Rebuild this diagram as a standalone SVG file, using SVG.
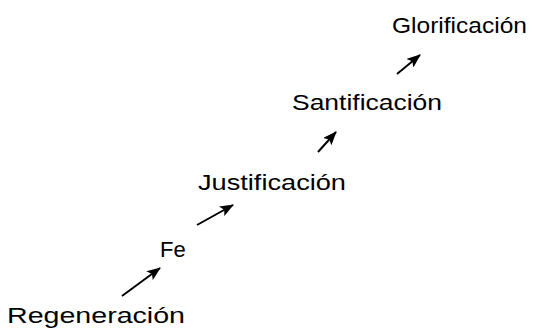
<svg xmlns="http://www.w3.org/2000/svg" width="541" height="330" viewBox="0 0 541 330">
<defs>
<marker id="ah" viewBox="0 0 14 11" refX="13" refY="5.5" markerWidth="14" markerHeight="11" orient="auto" markerUnits="userSpaceOnUse">
<path d="M0,0 L14,5.5 L0,11 L3,5.5 Z" fill="#000"/>
</marker>
<style>
.t{font-family:"Liberation Sans",Arial,sans-serif;font-size:22px;fill:#000}
.c line{stroke:#000;stroke-width:2;marker-end:url(#ah)}
</style>
</defs>
<rect width="541" height="330" fill="#fff"/>
<g id="regeneracion"><text class="t" x="7" y="323" textLength="178" lengthAdjust="spacingAndGlyphs">Regeneración</text></g>
<g id="fe"><text class="t" x="160" y="257">Fe</text></g>
<g id="justificacion"><text class="t" x="198" y="190" textLength="148" lengthAdjust="spacingAndGlyphs">Justificación</text></g>
<g id="santificacion"><text class="t" x="292" y="110" textLength="150" lengthAdjust="spacingAndGlyphs">Santificación</text></g>
<g id="glorificacion"><text class="t" x="392" y="33" textLength="135" lengthAdjust="spacingAndGlyphs">Glorificación</text></g>
<g class="c" id="connectors">
<line x1="122" y1="296" x2="160" y2="268"/>
<line x1="197" y1="225" x2="233" y2="205"/>
<line x1="318" y1="152" x2="336" y2="132"/>
<line x1="397" y1="74" x2="420" y2="55"/>
</g>
</svg>
